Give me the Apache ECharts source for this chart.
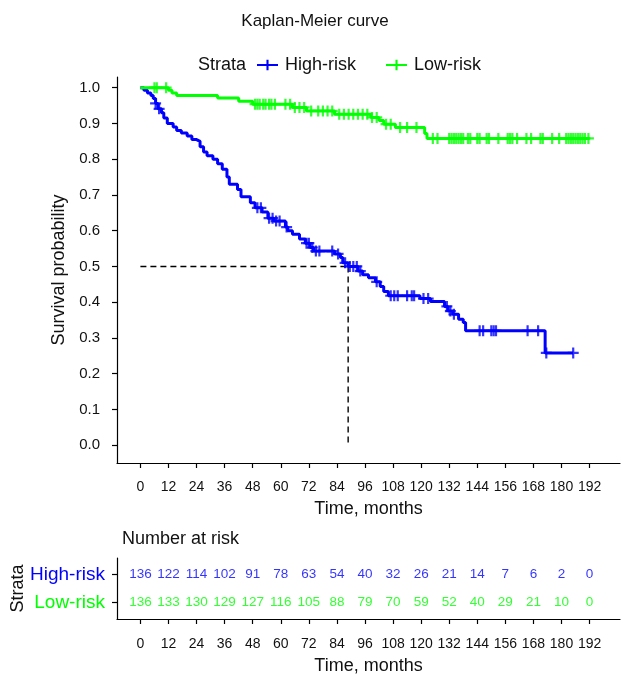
<!DOCTYPE html>
<html><head><meta charset="utf-8">
<script src="https://cdn.jsdelivr.net/npm/echarts@6/dist/echarts.min.js"></script>
<style>html,body{margin:0;padding:0;background:#fff}#c{width:630px;height:675px}</style>
</head><body><div id="c"></div>
<script>
// ---------- data ----------
const strata = ['High-risk', 'Low-risk'];
const strataColors = ['#0000FF', '#00FF00'];
const timeTicks = [0, 12, 24, 36, 48, 60, 72, 84, 96, 108, 120, 132, 144, 156, 168, 180, 192];
const survTicks = [0.0, 0.1, 0.2, 0.3, 0.4, 0.5, 0.6, 0.7, 0.8, 0.9, 1.0];

// High-risk KM steps (time in months, survival after step)
const highTimes = [0, 1.5, 3, 4.5, 5.5, 6.5, 7.5, 9, 10, 11.5, 14, 15.5, 17.5, 20, 22, 24, 25.5, 27, 28.5, 31, 33, 35, 37, 38, 41.5, 43, 47, 49, 52, 54.5, 57, 62, 63, 65, 68, 70.5, 72.5, 74, 83, 85.5, 86.5, 88.8, 93, 95, 97.5, 100.5, 102.5, 104, 106, 119.5, 124, 130, 131.5, 133.5, 136, 138, 139, 173, 185];
const highSurv  = [1.0, 0.993, 0.985, 0.978, 0.97, 0.956, 0.941, 0.93, 0.915, 0.90, 0.89, 0.88, 0.873, 0.865, 0.855, 0.85, 0.835, 0.82, 0.81, 0.80, 0.787, 0.772, 0.75, 0.73, 0.715, 0.695, 0.678, 0.664, 0.652, 0.635, 0.627, 0.61, 0.60, 0.59, 0.577, 0.565, 0.553, 0.543, 0.535, 0.525, 0.51, 0.50, 0.487, 0.477, 0.468, 0.457, 0.444, 0.43, 0.418, 0.41, 0.402, 0.388, 0.375, 0.366, 0.352, 0.343, 0.32, 0.258, 0.258];
const highCensor = [6.5, 8, 50, 51.5, 55, 56.5, 58, 59.5, 62.5, 71, 72, 73.5, 75, 76.5, 82, 84.5, 87.5, 89.5, 91, 92.5, 94, 101, 107, 108.5, 110, 114, 116, 117, 121, 123, 131, 132.5, 134, 145, 146.5, 150, 151, 152, 165.5, 170, 173.5, 185];

// Low-risk KM steps
const lowTimes = [0, 12, 13.5, 15.5, 33, 42, 48, 65, 71, 83, 98.5, 102, 104, 109, 121.5, 122.5, 192];
const lowSurv  = [1.0, 0.993, 0.985, 0.978, 0.971, 0.962, 0.954, 0.945, 0.935, 0.926, 0.917, 0.908, 0.898, 0.889, 0.872, 0.858, 0.858];
const lowCensor = [6, 7, 11, 49, 50, 51, 52.5, 53.5, 55, 56, 57.5, 62, 64, 66, 68, 70, 73, 76, 78, 80, 82, 85, 87, 89, 91, 93, 95, 97, 99, 101, 105, 107, 111, 114, 118, 125, 127, 132, 133, 134, 135, 136, 137, 138, 140, 141, 144, 145, 148, 149, 153, 157, 158, 159, 161, 165, 167, 171, 172, 176, 179, 182, 183, 184, 185, 186, 187, 188, 189, 190, 191.5];

const medianTime = 88.8;
const medianSurv = 0.5;

const riskHigh = [136, 122, 114, 102, 91, 78, 63, 54, 40, 32, 26, 21, 14, 7, 6, 2, 0];
const riskLow  = [136, 133, 130, 129, 127, 116, 105, 88, 79, 70, 59, 52, 40, 29, 21, 10, 0];

// ---------- helpers ----------
function survAt(times, surv, t) {
  let v = surv[0];
  for (let i = 0; i < times.length; i++) { if (times[i] <= t) v = surv[i]; }
  return v;
}
const plusPath = 'path://M4,0 L6,0 L6,4 L10,4 L10,6 L6,6 L6,10 L4,10 L4,6 L0,6 L0,4 L4,4 Z';
const legendIcon = 'path://M0,4 L20,4 L20,6 L0,6 Z M9,0 L11,0 L11,10 L9,10 Z';
const FONT = 'Liberation Sans, Arial, Helvetica, sans-serif';
const TXT = '#111';

const chart = echarts.init(document.getElementById('c'), null, { renderer: 'canvas' });

const lineSt = { color: '#000', width: 1.2 };
function tick(vals) { return { show: true, length: 5, customValues: vals, lineStyle: lineSt }; }

const option = {
  animation: false,
  backgroundColor: '#fff',
  textStyle: { fontFamily: FONT },
  title: [
    { text: 'Kaplan-Meier curve', left: 'center', top: 8,
      textStyle: { fontSize: 17, fontWeight: 'normal', color: TXT, fontFamily: FONT } },
    { text: 'Strata', left: 193, top: 51,
      textStyle: { fontSize: 18, fontWeight: 'normal', color: TXT, fontFamily: FONT } },
    { text: 'Number at risk', left: 117, top: 525,
      textStyle: { fontSize: 18, fontWeight: 'normal', color: TXT, fontFamily: FONT } }
  ],
  legend: {
    data: strata.map((s) => ({ name: s, icon: legendIcon })),
    left: 252, top: 51,
    itemWidth: 21, itemHeight: 11, itemGap: 30,
    textStyle: { fontSize: 18, color: TXT, fontFamily: FONT, padding: [0, 0, 0, 2] },
    selectedMode: false
  },
  grid: [
    { left: 117, right: 10, top: 77, bottom: 212, containLabel: false, outerBoundsMode: 'none' },
    { left: 117, right: 10, top: 558, bottom: 56, containLabel: false, outerBoundsMode: 'none' }
  ],
  xAxis: [
    {
      type: 'value', gridIndex: 0, min: -10, max: 205,
      axisLine: { show: true, onZero: false, lineStyle: lineSt },
      splitLine: { show: false },
      name: 'Time, months', nameLocation: 'middle', nameGap: 37,
      nameTextStyle: { fontSize: 18, color: TXT, fontFamily: FONT },
      axisTick: tick(timeTicks),
      axisLabel: { customValues: timeTicks, margin: 17, fontSize: 14, color: TXT, fontFamily: FONT }
    },
    {
      type: 'value', gridIndex: 1, min: -10, max: 205,
      axisLine: { show: true, onZero: false, lineStyle: lineSt },
      splitLine: { show: false },
      name: 'Time, months', nameLocation: 'middle', nameGap: 38,
      nameTextStyle: { fontSize: 18, color: TXT, fontFamily: FONT },
      axisTick: tick(timeTicks),
      axisLabel: { customValues: timeTicks, margin: 18, fontSize: 14, color: TXT, fontFamily: FONT }
    }
  ],
  yAxis: [
    {
      type: 'value', gridIndex: 0, min: -0.05, max: 1.03,
      axisLine: { show: true, onZero: false, lineStyle: lineSt },
      splitLine: { show: false },
      name: 'Survival probability', nameLocation: 'middle', nameGap: 46, nameRotate: 90,
      nameTextStyle: { fontSize: 18, color: TXT, fontFamily: FONT },
      axisTick: tick(survTicks),
      axisLabel: { customValues: survTicks, margin: 17, fontSize: 15, color: TXT, fontFamily: FONT,
        formatter: (v) => Number(v).toFixed(1) }
    },
    {
      type: 'value', gridIndex: 1, min: 0.4, max: 2.6, inverse: true,
      axisLine: { show: true, onZero: false, lineStyle: lineSt },
      splitLine: { show: false },
      name: 'Strata', nameLocation: 'middle', nameGap: 90, nameRotate: 90, nameMoveOverlap: false,
      nameTextStyle: { fontSize: 18, color: TXT, fontFamily: FONT },
      axisTick: tick([1, 2]),
      axisLabel: { customValues: [1, 2], margin: 12, fontFamily: FONT,
        formatter: (v) => (Math.round(v) === 1 ? '{h|' + strata[0] + '}' : '{l|' + strata[1] + '}'),
        rich: {
          h: { fontSize: 19, color: strataColors[0], fontFamily: FONT },
          l: { fontSize: 19, color: strataColors[1], fontFamily: FONT }
        } }
    }
  ],
  series: []
};

const curveTimes = [highTimes, lowTimes];
const curveSurv = [highSurv, lowSurv];
const censors = [highCensor, lowCensor];
const risks = [riskHigh, riskLow];

strata.forEach((s, k) => {
  option.series.push({
    name: s, type: 'line', xAxisIndex: 0, yAxisIndex: 0, step: 'end',
    symbol: 'none', z: 3,
    lineStyle: { color: strataColors[k], width: 3 },
    itemStyle: { color: strataColors[k] },
    data: curveTimes[k].map((t, i) => [t, curveSurv[k][i]])
  });
  option.series.push({
    name: s + ' censored', type: 'scatter', xAxisIndex: 0, yAxisIndex: 0,
    symbol: plusPath, symbolSize: 11, z: 4,
    itemStyle: { color: strataColors[k] },
    data: censors[k].map((t) => [t, survAt(curveTimes[k], curveSurv[k], t)])
  });
  option.series.push({
    name: s + ' at risk', type: 'scatter', xAxisIndex: 1, yAxisIndex: 1,
    symbolSize: 1, itemStyle: { color: 'rgba(0,0,0,0)' },
    label: { show: true, position: 'inside', fontSize: 13.5, color: strataColors[k], fontFamily: FONT,
      formatter: (p) => String(p.value[2]) },
    data: timeTicks.map((t, i) => [t, k + 1, risks[k][i]])
  });
});

// median survival guide lines
option.series.push({
  name: 'median-h', type: 'line', xAxisIndex: 0, yAxisIndex: 0, symbol: 'none', z: 2,
  lineStyle: { color: '#000', width: 1.4, type: [6, 4] },
  data: [[timeTicks[0], medianSurv], [medianTime, medianSurv]]
});
option.series.push({
  name: 'median-v', type: 'line', xAxisIndex: 0, yAxisIndex: 0, symbol: 'none', z: 2,
  lineStyle: { color: '#000', width: 1.4, type: [6, 4] },
  data: [[medianTime, medianSurv], [medianTime, survTicks[0]]]
});

chart.setOption(option);
</script>
</body></html>
